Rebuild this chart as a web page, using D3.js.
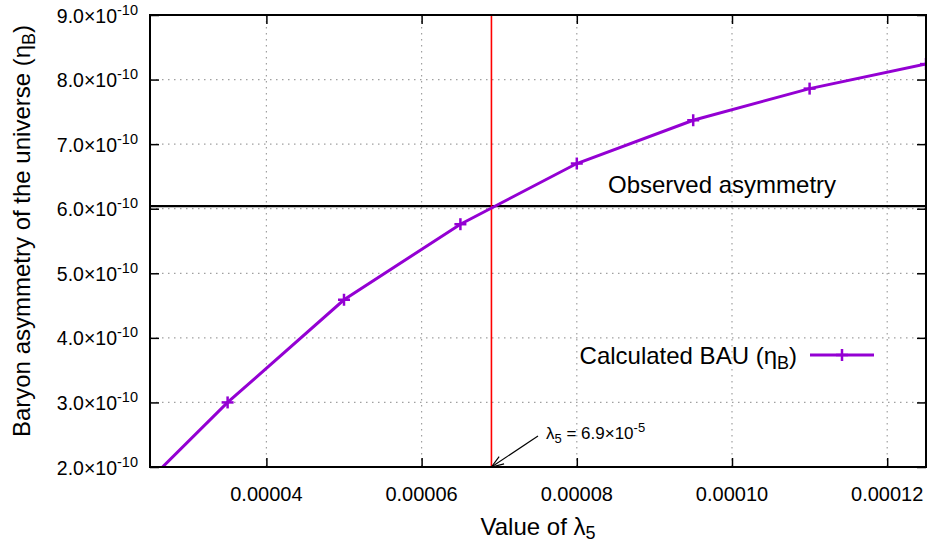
<!DOCTYPE html>
<html>
<head>
<meta charset="utf-8">
<script src="https://cdn.jsdelivr.net/npm/d3@7"></script>
<style>
  html, body { margin: 0; padding: 0; background: #fff; }
  svg { display: block; font-family: "Liberation Sans", Arial, sans-serif; }
</style>
</head>
<body>
<svg id="chart" width="929" height="542"></svg>
<script>
// ---- data ----
const lambda5 = [2.0e-5, 3.5e-5, 5.0e-5, 6.5e-5, 8.0e-5, 9.5e-5, 1.1e-4, 1.25e-4];
const etaB    = [1.21e-10, 3.0e-10, 4.59e-10, 5.76e-10, 6.70e-10, 7.37e-10, 7.86e-10, 8.24e-10];
const observedEta = 6.04e-10;
const lambda5Solution = 6.9e-5;
const xTicks = [4e-5, 6e-5, 8e-5, 1.0e-4, 1.2e-4];
const xTickLabels = ["0.00004", "0.00006", "0.00008", "0.00010", "0.00012"];
const yTicks = [2e-10, 3e-10, 4e-10, 5e-10, 6e-10, 7e-10, 8e-10, 9e-10];
const yTickMantissa = ["2.0", "3.0", "4.0", "5.0", "6.0", "7.0", "8.0", "9.0"];
const xDomain = [2.5e-5, 1.25e-4];
const yDomain = [2e-10, 9e-10];

// ---- layout ----
const svg = d3.select("#chart");
const L = 150, R = 926, T = 15, B = 467;
const x = d3.scaleLinear().domain(xDomain).range([L, R]);
const y = d3.scaleLinear().domain(yDomain).range([B, T]);
const purple = "#9400d3";

svg.append("defs").append("clipPath").attr("id", "clip")
  .append("rect").attr("x", L).attr("y", T).attr("width", R - L).attr("height", B - T);

// grid
const grid = svg.append("g").attr("stroke", "#a0a0a0").attr("stroke-width", 1.2)
  .attr("stroke-dasharray", "1.5,4.5");
grid.selectAll("line.gx").data(xTicks).join("line")
  .attr("x1", d => x(d)).attr("x2", d => x(d)).attr("y1", T).attr("y2", B);
grid.selectAll("line.gy").data(yTicks.slice(1, -1)).join("line")
  .attr("x1", L).attr("x2", R).attr("y1", d => y(d)).attr("y2", d => y(d));

// axes with inward ticks (mirrored)
const tickLen = 9;
svg.append("g").attr("transform", `translate(0,${B})`)
  .call(d3.axisBottom(x).tickValues(xTicks).tickSizeInner(-tickLen).tickSizeOuter(0).tickFormat(""))
  .call(g => g.select(".domain").remove())
  .call(g => g.selectAll("line").attr("stroke", "#000").attr("stroke-width", 1.5));
svg.append("g").attr("transform", `translate(0,${T})`)
  .call(d3.axisTop(x).tickValues(xTicks).tickSizeInner(-tickLen).tickSizeOuter(0).tickFormat(""))
  .call(g => g.select(".domain").remove())
  .call(g => g.selectAll("line").attr("stroke", "#000").attr("stroke-width", 1.5));
svg.append("g").attr("transform", `translate(${L},0)`)
  .call(d3.axisLeft(y).tickValues(yTicks).tickSizeInner(-tickLen).tickSizeOuter(0).tickFormat(""))
  .call(g => g.select(".domain").remove())
  .call(g => g.selectAll("line").attr("stroke", "#000").attr("stroke-width", 1.5));
svg.append("g").attr("transform", `translate(${R},0)`)
  .call(d3.axisRight(y).tickValues(yTicks).tickSizeInner(-tickLen).tickSizeOuter(0).tickFormat(""))
  .call(g => g.select(".domain").remove())
  .call(g => g.selectAll("line").attr("stroke", "#000").attr("stroke-width", 1.5));

// x tick labels
svg.append("g").selectAll("text").data(xTicks).join("text")
  .attr("x", d => x(d)).attr("y", 501).attr("text-anchor", "middle")
  .attr("font-size", 20).attr("fill", "#000")
  .text((d, i) => xTickLabels[i]);

// y tick labels
const yl = svg.append("g").selectAll("text").data(yTicks).join("text")
  .attr("x", 138).attr("y", d => y(d) + 7.5).attr("text-anchor", "end")
  .attr("font-size", 19.5).attr("fill", "#000");
yl.append("tspan").text((d, i) => yTickMantissa[i] + "×10");
yl.append("tspan").attr("dy", -8).attr("font-size", 14.5).text("-10");

// observed asymmetry line
svg.append("line").attr("x1", L).attr("x2", R)
  .attr("y1", y(observedEta)).attr("y2", y(observedEta))
  .attr("stroke", "#000").attr("stroke-width", 2.2);
svg.append("text").attr("x", 608).attr("y", 193).attr("font-size", 24).text("Observed asymmetry");

// vertical red line at solution
svg.append("line").attr("x1", x(lambda5Solution)).attr("x2", x(lambda5Solution))
  .attr("y1", T).attr("y2", B).attr("stroke", "#ff0000").attr("stroke-width", 1.6);

// data curve
const pts = lambda5.map((d, i) => [d, etaB[i]]);
const plot = svg.append("g").attr("clip-path", "url(#clip)");
plot.append("path").datum(pts)
  .attr("fill", "none").attr("stroke", purple).attr("stroke-width", 3)
  .attr("d", d3.line().x(d => x(d[0])).y(d => y(d[1])));
const ms = 6;
const mk = plot.selectAll("g.mk").data(pts).join("g")
  .attr("transform", d => `translate(${x(d[0])},${y(d[1])})`)
  .attr("stroke", purple).attr("stroke-width", 2.5);
mk.append("line").attr("x1", -ms).attr("x2", ms);
mk.append("line").attr("y1", -ms).attr("y2", ms);

// border
svg.append("rect").attr("x", L).attr("y", T).attr("width", R - L).attr("height", B - T)
  .attr("fill", "none").attr("stroke", "#000").attr("stroke-width", 2);

// legend
const lg = svg.append("g");
const legText = lg.append("text").attr("x", 797).attr("y", 364).attr("text-anchor", "end")
  .attr("font-size", 24);
legText.append("tspan").text("Calculated BAU (η");
legText.append("tspan").attr("dy", 5).attr("font-size", 18).text("B");
legText.append("tspan").attr("dy", -5).text(")");
lg.append("line").attr("x1", 810).attr("x2", 874).attr("y1", 355).attr("y2", 355)
  .attr("stroke", purple).attr("stroke-width", 3);
lg.append("line").attr("x1", 842 - ms).attr("x2", 842 + ms).attr("y1", 355).attr("y2", 355)
  .attr("stroke", purple).attr("stroke-width", 2.5);
lg.append("line").attr("x1", 842).attr("x2", 842).attr("y1", 355 - ms).attr("y2", 355 + ms)
  .attr("stroke", purple).attr("stroke-width", 2.5);

// annotation arrow
const tipX = x(lambda5Solution), tipY = y(yDomain[0]);
const tailX = 538, tailY = 436;
const ang = Math.atan2(tipY - tailY, tipX - tailX);
const hl = 13, ha = 0.35;
svg.append("line").attr("x1", tailX).attr("y1", tailY).attr("x2", tipX).attr("y2", tipY)
  .attr("stroke", "#000").attr("stroke-width", 1.2);
svg.append("path")
  .attr("d", `M${tipX - hl * Math.cos(ang - ha)},${tipY - hl * Math.sin(ang - ha)} L${tipX},${tipY} L${tipX - hl * Math.cos(ang + ha)},${tipY - hl * Math.sin(ang + ha)}`)
  .attr("fill", "none").attr("stroke", "#000").attr("stroke-width", 1.2);
const ann = svg.append("text").attr("x", 546).attr("y", 439).attr("font-size", 17);
ann.append("tspan").text("λ");
ann.append("tspan").attr("dy", 4).attr("font-size", 13).text("5");
ann.append("tspan").attr("dy", -4).text(" = 6.9×10");
ann.append("tspan").attr("dy", -7).attr("font-size", 13).text("-5");

// axis titles
const xt = svg.append("text").attr("x", 538).attr("y", 535).attr("text-anchor", "middle").attr("font-size", 24);
xt.append("tspan").text("Value of λ");
xt.append("tspan").attr("dy", 4).attr("font-size", 18).text("5");

const yt = svg.append("text").attr("transform", "translate(30,231) rotate(-90)")
  .attr("text-anchor", "middle").attr("font-size", 24);
yt.append("tspan").text("Baryon asymmetry of the universe (η");
yt.append("tspan").attr("dy", 5).attr("font-size", 18).text("B");
yt.append("tspan").attr("dy", -5).text(")");
</script>
</body>
</html>
